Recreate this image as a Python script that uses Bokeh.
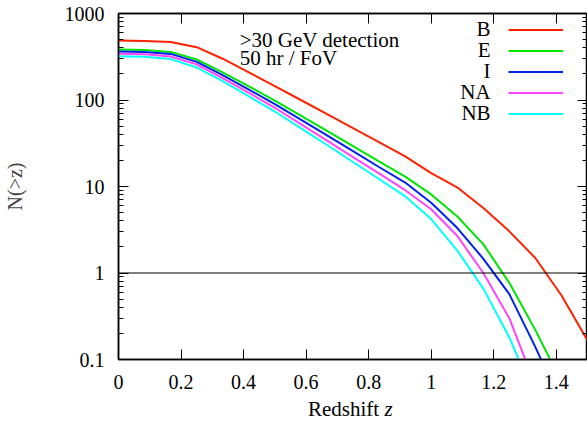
from bokeh.plotting import figure
from bokeh.layouts import column
from bokeh.models import (FixedTicker, CustomJSTickFormatter, LinearAxis, LogAxis,
                          Span, Label, Legend, LegendItem, Div)
from bokeh.embed import file_html
from bokeh.resources import INLINE

# ---- data ----
z = [0.0, 0.083, 0.167, 0.25, 0.333, 0.417, 0.5, 0.583, 0.667, 0.75,
     0.833, 0.917, 1.0, 1.083, 1.167, 1.25, 1.333, 1.417, 1.5]
n_B = [488, 481, 469, 408, 300, 208, 145, 100, 68.5, 47.2, 32.6, 22.3,
       14.3, 9.8, 5.63, 3.03, 1.49, 0.55, 0.166]
n_E = [384, 378, 360, 294, 209, 144, 98.6, 66, 43.9, 29.3, 19.5, 13.0,
       8.1, 4.53, 2.14, 0.77, 0.22, 0.055]
n_I = [364, 359, 341, 276, 194, 132, 89.5, 59.4, 38.9, 25.6, 16.8, 11.1,
       6.5, 3.33, 1.46, 0.57, 0.14, 0.03]
n_NA = [342, 337, 319, 258, 179.5, 121, 81.3, 52.7, 33.9, 21.9, 14.2, 9.06,
        5.45, 2.7, 1.0, 0.30, 0.05]
n_NB = [321, 316, 297, 238, 165, 110, 73.6, 47.3, 30.2, 19.2, 12.2, 7.7,
        4.2, 1.83, 0.66, 0.18, 0.035]

series_names = ["B", "E", "I", "NA", "NB"]
series_values = [n_B, n_E, n_I, n_NA, n_NB]
series_colors = ["#ff2200", "#00e600", "#0022ee", "#ff44ff", "#00ffff"]

x_ticks = [0, 0.2, 0.4, 0.6, 0.8, 1.0, 1.2, 1.4]
y_ticks = [0.1, 1, 10, 100, 1000]
threshold = 1

FONT = "Liberation Serif"

p = figure(width=587, height=399, x_range=(0, 1.5), y_range=(0.1, 1000),
           y_axis_type="log", output_backend="svg", toolbar_location=None,
           min_border_left=114, min_border_right=0, min_border_top=13,
           min_border_bottom=40)
p.grid.visible = False
p.outline_line_color = "black"
p.outline_line_width = 1.5
p.background_fill_color = "white"
p.border_fill_color = "white"

minor_y = [k * 10.0 ** e for e in range(-1, 3) for k in range(2, 10)]


def style_axis(ax):
    ax.axis_line_color = "black"
    ax.axis_line_width = 1.5
    ax.major_tick_in = 10
    ax.major_tick_out = 0
    ax.minor_tick_in = 5
    ax.minor_tick_out = 0
    ax.major_tick_line_color = "black"
    ax.minor_tick_line_color = "black"
    ax.major_label_text_font = FONT
    ax.major_label_text_font_size = "20px"
    ax.major_label_text_color = "black"


xa = p.xaxis[0]
style_axis(xa)
xa.ticker = FixedTicker(ticks=x_ticks, minor_ticks=[])
xa.formatter = CustomJSTickFormatter(code="return tick.toFixed(1).replace(/\\.0$/, '');")
xa.major_label_standoff = 15

ya = p.yaxis[0]
style_axis(ya)
ya.ticker = FixedTicker(ticks=y_ticks, minor_ticks=minor_y)
ya.formatter = CustomJSTickFormatter(code="return tick < 1 ? tick.toFixed(1) : tick.toFixed(0);")
ya.major_label_standoff = 14
ya.axis_label = "N(>z)"
ya.axis_label_text_font = FONT
ya.axis_label_text_font_size = "20px"
ya.axis_label_text_font_style = "normal"
ya.axis_label_standoff = 36

blank = "return '';"
top = LinearAxis(ticker=FixedTicker(ticks=x_ticks, minor_ticks=[]),
                 formatter=CustomJSTickFormatter(code=blank))
style_axis(top)
top.major_label_standoff = 0
p.add_layout(top, "above")
right = LogAxis(ticker=FixedTicker(ticks=y_ticks, minor_ticks=minor_y),
                formatter=CustomJSTickFormatter(code=blank))
style_axis(right)
right.major_label_standoff = 0
p.add_layout(right, "right")

p.add_layout(Span(location=threshold, dimension="width", line_color="black", line_width=1))

renderers = []
for name, vals, col in zip(series_names, series_values, series_colors):
    r = p.line(z[:len(vals)], vals, line_color=col, line_width=2)
    renderers.append(r)

legend = Legend(items=[LegendItem(label=" ", renderers=[r]) for r in renderers],
                location=(389.7, 235.5), glyph_width=55, glyph_height=21,
                label_height=21, label_width=1, spacing=0, padding=0, margin=0,
                label_standoff=0, label_text_font_size="1px",
                border_line_color=None, background_fill_alpha=0)
p.add_layout(legend)

# legend names (to the left of the samples)
leg_y = [658.6, 377.8, 216.4, 124.1, 71.1]
for name, yy in zip(series_names, leg_y):
    p.add_layout(Label(x=1.19, y=yy, text=name, text_align="right",
                       text_baseline="alphabetic", text_font=FONT,
                       text_font_size="21px", text_color="black"))

p.add_layout(Label(x=0.3875, y=494, text=">30 GeV detection", text_align="left",
                   text_baseline="alphabetic", text_font=FONT,
                   text_font_size="21px", text_color="black"))
p.add_layout(Label(x=0.3875, y=302, text="50 hr / FoV", text_align="left",
                   text_baseline="alphabetic", text_font=FONT,
                   text_font_size="21px", text_color="black"))

# x-axis title with italic z (HTML text below the figure)
xtitle = Div(text=('<div style="margin-left:308px; white-space:nowrap; '
                   "font-family:'Liberation Serif', serif; font-size:21px; "
                   'line-height:21px; color:black;">Redshift <i>z</i></div>'),
             width=587, height=24, margin=0)

layout = column(p, xtitle, spacing=0)
open("out.html", "w").write(file_html(layout, INLINE))
